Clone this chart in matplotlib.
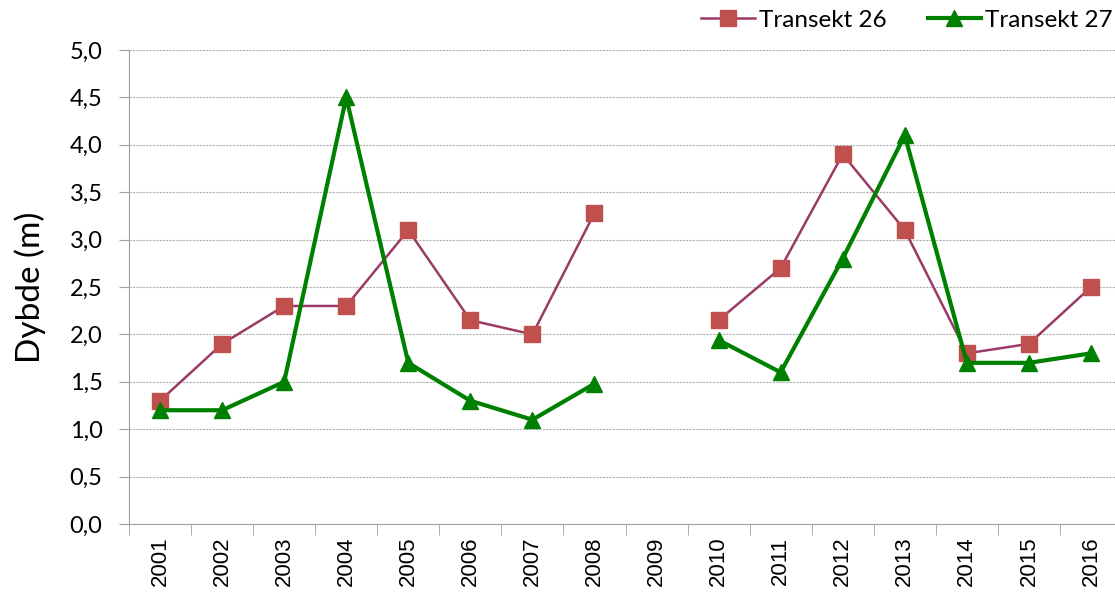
import matplotlib
matplotlib.use("Agg")
import matplotlib.pyplot as plt
import numpy as np

years = ["2001", "2002", "2003", "2004", "2005", "2006", "2007", "2008", "2009",
         "2010", "2011", "2012", "2013", "2014", "2015", "2016"]
transekt26 = [1.3, 1.9, 2.3, 2.3, 3.1, 2.15, 2.0, 3.28, None,
              2.15, 2.7, 3.9, 3.1, 1.8, 1.9, 2.5]
transekt27 = [1.2, 1.2, 1.5, 4.5, 1.7, 1.3, 1.1, 1.48, None,
              1.94, 1.6, 2.8, 4.1, 1.7, 1.7, 1.8]
yticks = [0.0, 0.5, 1.0, 1.5, 2.0, 2.5, 3.0, 3.5, 4.0, 4.5, 5.0]

def arr(v):
    return np.array([np.nan if x is None else x for x in v], dtype=float)

fig = plt.figure(figsize=(11.15, 5.95), dpi=100)
ax = fig.add_axes([129/1115, 1 - 524/595, (1122-129)/1115, (524-50)/595])

x = np.arange(len(years))
ax.plot(x, arr(transekt26), color="#9B3A67", lw=1.8, marker="s", ms=11,
        markerfacecolor="#C0504D", markeredgecolor="#C0504D", label="Transekt 26",
        zorder=3, clip_on=False)
ax.plot(x, arr(transekt27), color="#008000", lw=3, marker="^", ms=12,
        markerfacecolor="#008000", markeredgecolor="#008000", label="Transekt 27",
        zorder=4, clip_on=False)

ax.set_xlim(-0.5, len(years) - 0.5)
ax.set_ylim(0, 5.0)
ax.set_yticks(yticks)
ax.set_yticklabels([f"{v:.1f}".replace(".", ",") for v in yticks],
                   fontsize=17, family=["Lato", "DejaVu Sans"])
ax.set_xticks(x)
ax.set_xticklabels(years, rotation=90, fontsize=16, family=["Liberation Sans"])
ax.set_xticks(np.arange(len(years) + 1) - 0.5, minor=True)
ax.tick_params(axis="x", which="major", length=0, pad=9)
ax.tick_params(axis="x", which="minor", length=8, color="#A0A0A0", direction="out")
ax.tick_params(axis="y", length=7, color="#A0A0A0", direction="out", pad=12)

ax.grid(axis="y", color="#B0B0B0", linestyle=(0, (2, 1)), lw=0.8)
ax.set_axisbelow(True)
for s in ["top", "right"]:
    ax.spines[s].set_visible(False)
ax.spines["left"].set_color("#A0A0A0")
ax.spines["bottom"].set_color("#A0A0A0")

ax.set_ylabel("Dybde (m)", fontsize=24, family=["Lato", "DejaVu Sans"], labelpad=17)

leg = ax.legend(loc="upper right", bbox_to_anchor=(1.0, 1.105),
                ncol=2, frameon=False,
                prop={"family": "Lato", "size": 17.5}, handlelength=2.2,
                handletextpad=0.15, columnspacing=1.7, borderaxespad=0)

fig.savefig("out.png", dpi=100)
